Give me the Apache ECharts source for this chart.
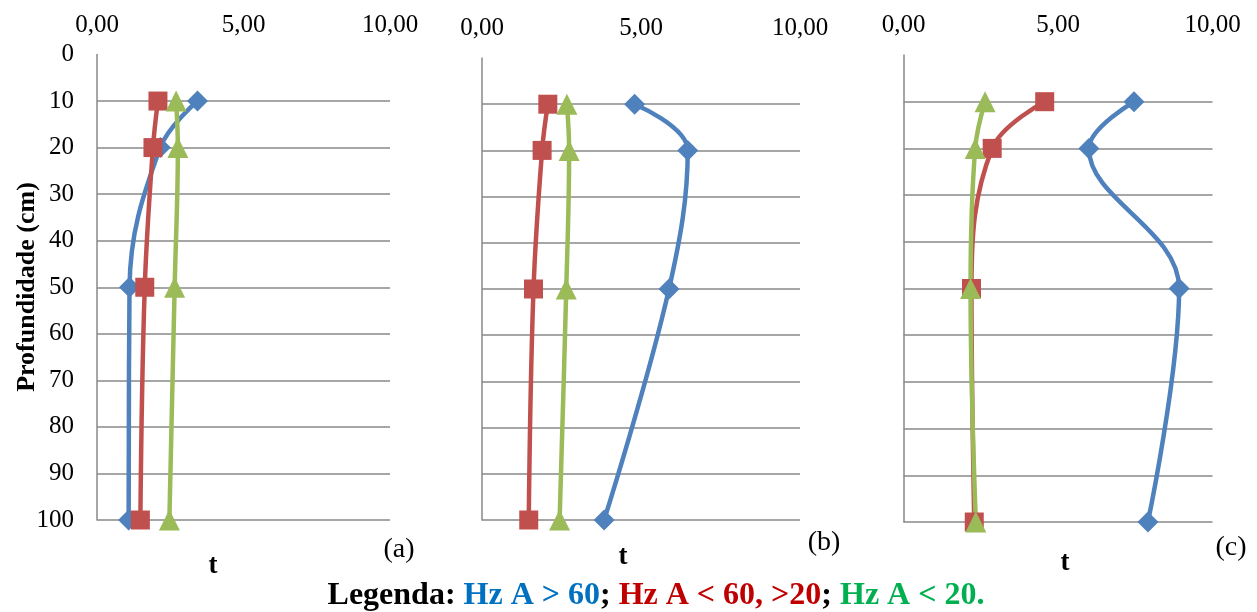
<!DOCTYPE html>
<html>
<head>
<meta charset="utf-8">
<script src="https://cdn.jsdelivr.net/npm/echarts@6/dist/echarts.min.js"></script>
<style>
  html, body { margin: 0; padding: 0; background: #fff; }
  #chart { width: 1257px; height: 612px; }
</style>
</head>
<body>
<div id="chart"></div>
<script>
// Profundidade (cm) of each sampling point
const depths = [10, 20, 50, 100];

// Panel (a)
const aHzA60 = [3.43, 2.16, 1.11, 1.08];
const aHzA60_20 = [2.08, 1.91, 1.63, 1.48];
const aHzA20 = [2.70, 2.76, 2.65, 2.47];

// Panel (b)
const bHzA60 = [4.80, 6.47, 5.88, 3.84];
const bHzA60_20 = [2.07, 1.89, 1.62, 1.47];
const bHzA20 = [2.67, 2.74, 2.65, 2.44];

// Panel (c)
const cHzA60 = [7.46, 6.00, 8.92, 7.91];
const cHzA60_20 = [4.57, 2.87, 2.20, 2.29];
const cHzA20 = [2.64, 2.32, 2.17, 2.34];

const panelLetters = ['(a)', '(b)', '(c)'];
const xAxisName = 't';
const yAxisName = 'Profundidade (cm)';

const FONT = '"Liberation Serif", "Times New Roman", serif';
const GRID_GRAY = '#898989';
const BLUE = '#4F81BD', RED = '#C0504D', GREEN = '#9BBB59';

const panels = [
  { blue: aHzA60, red: aHzA60_20, green: aHzA20, grid: { left: 97, top: 54.5, width: 293, height: 465.5 } },
  { blue: bHzA60, red: bHzA60_20, green: bHzA20, grid: { left: 482, top: 58, width: 318, height: 462 } },
  { blue: cHzA60, red: cHzA60_20, green: cHzA20, grid: { left: 903.5, top: 55, width: 309, height: 467 } }
];

const pairs = (xs) => xs.map((v, i) => [v, depths[i]]);
const fmt = (v) => v.toFixed(2).replace('.', ',');

const grid = [], xAxis = [], yAxis = [], series = [];
panels.forEach((p, i) => {
  grid.push(Object.assign({ containLabel: false }, p.grid));
  xAxis.push({
    gridIndex: i, type: 'value', position: 'top', min: 0, max: 10, interval: 5,
    axisLine: { show: false }, axisTick: { show: false }, splitLine: { show: false },
    axisLabel: { formatter: fmt, fontFamily: FONT, fontSize: 25, color: '#000', margin: 17,
                 showMinLabel: true, showMaxLabel: true }
  });
  yAxis.push({
    gridIndex: i, type: 'value', inverse: true, min: 0, max: 100, interval: 10,
    axisLine: { show: true, lineStyle: { color: GRID_GRAY, width: 1.5 } },
    axisTick: { show: false },
    axisLabel: { show: i === 0, fontFamily: FONT, fontSize: 25, color: '#000', margin: 23 },
    splitLine: { show: true, showMinLine: false, lineStyle: { color: GRID_GRAY, width: 1.5 } }
  });
  [
    { name: 'Hz A > 60', data: p.blue, color: BLUE, symbol: 'diamond', size: 21 },
    { name: 'Hz A < 60, >20', data: p.red, color: RED, symbol: 'rect', size: 19 },
    { name: 'Hz A < 20', data: p.green, color: GREEN, symbol: 'triangle', size: 21 }
  ].forEach((s) => {
    series.push({
      type: 'line', name: s.name, xAxisIndex: i, yAxisIndex: i,
      data: pairs(s.data), smooth: 0.38,
      symbol: s.symbol, symbolSize: s.size, showAllSymbol: true,
      lineStyle: { color: s.color, width: 4.5 },
      itemStyle: { color: s.color },
      emphasis: { disabled: true },
      animation: false
    });
  });
});

const letterPos = [[399, 550], [824, 543], [1231, 548]];
const tPos = [[213, 566], [623, 557], [1065, 563]];
const graphic = [];
panelLetters.forEach((txt, i) => {
  graphic.push({ type: 'text', x: letterPos[i][0], y: letterPos[i][1],
    style: { text: txt, font: '28px ' + FONT, fill: '#000', align: 'center', verticalAlign: 'middle' } });
  graphic.push({ type: 'text', x: tPos[i][0], y: tPos[i][1],
    style: { text: xAxisName, font: 'bold 27px ' + FONT, fill: '#000', align: 'center', verticalAlign: 'middle' } });
});
graphic.push({ type: 'text', x: 27, y: 287, rotation: Math.PI / 2,
  style: { text: yAxisName, font: 'bold 26px ' + FONT, fill: '#000', align: 'center', verticalAlign: 'middle' } });

const chart = echarts.init(document.getElementById('chart'), null, { renderer: 'canvas' });
chart.setOption({
  backgroundColor: '#fff',
  animation: false,
  grid, xAxis, yAxis, series, graphic,
  title: {
    left: 651, top: 575, textAlign: 'center',
    text: '{k|Legenda: }{b|Hz A > 60}{k|; }{r|Hz A < 60, >20}{k|; }{g|Hz A < 20.}',
    textStyle: {
      rich: {
        k: { fontFamily: FONT, fontWeight: 'bold', fontSize: 32, color: '#000' },
        b: { fontFamily: FONT, fontWeight: 'bold', fontSize: 32, color: '#0070C0' },
        r: { fontFamily: FONT, fontWeight: 'bold', fontSize: 32, color: '#C00000' },
        g: { fontFamily: FONT, fontWeight: 'bold', fontSize: 32, color: '#00B050' }
      }
    }
  }
});
</script>
</body>
</html>
